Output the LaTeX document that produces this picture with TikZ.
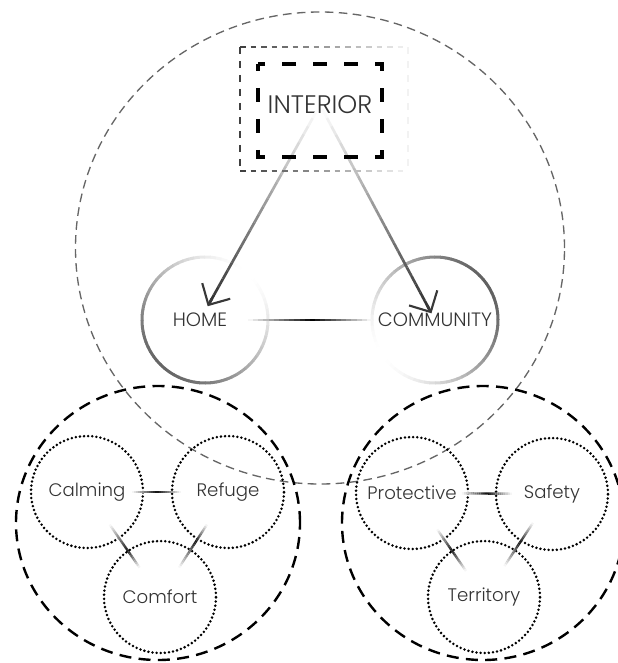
\documentclass[tikz,border=0pt]{standalone}
\usepackage{fontspec}
\setmainfont{Poppins Light}
\usepackage{tikz}
\usepackage{xcolor}
\usetikzlibrary{calc,arrows.meta}
\definecolor{vtext}{HTML}{333333}
\definecolor{vgray}{HTML}{666666}

\newcommand{\fadeline}[7][]{%
	\foreach \i in {1,...,24}{%
		\pgfmathsetmacro\ta{#4+(#5-#4)*(\i-1)/24}%
		\pgfmathsetmacro\tb{#4+(#5-#4)*\i/24}%
		\pgfmathsetmacro\s{(\i-0.5)/24}%
		\pgfmathsetmacro\dk{#7*min(\s/#6,(1-\s)/(1-#6))}%
		\draw[#1, black!\dk] ($(#2)!\ta!(#3)$) -- ($(#2)!\tb!(#3)$);%
	}}

\tikzset{
	bigtext/.style={text=vtext, font=\fontsize{19}{23}\selectfont},
	midtext/.style={text=vtext, font=\fontsize{14.5}{17}\selectfont},
	dotring/.style={circle, draw, line width=2.1pt, dash pattern=on 0pt off 3.1pt, line cap=round, minimum size=84pt, inner sep=0pt, text=vtext, font=\fontsize{13.6}{17}\selectfont},
	clusterline/.style={line width=1.8pt, dash pattern=on 9pt off 5.5pt},
	framebox/.style={line width=2.3pt, dash pattern=on 10.5pt off 12.75pt, dash phase=5.25pt},
	boxline/.style={line width=1.2pt, dash pattern=on 5.5pt off 5pt},
	ring/.style={line width=2.25pt},
	arrowline/.style={line width=2pt},
	hlink/.style={line width=2.1pt},
	clink/.style={line width=1.8pt}
}

\begin{document}
\begin{tikzpicture}[x=0.75pt, y=0.75pt]
		\useasboundingbox (0,0) rectangle (617,-663);
		\draw[vgray, line width=1pt, dash pattern=on 6.5pt off 4pt] (320,-248) ellipse [x radius=244.5, y radius=236];
		\node[bigtext] (interior) at (320,-105) {INTERIOR};
		\node[midtext] (home) at (200,-320) {HOME};
		\node[midtext] (community) at (435,-320) {COMMUNITY};
		\foreach \a in {0,5,...,355}{
			\pgfmathsetmacro\dk{60*(1+cos(\a-225))/2}
			\draw[ring, black!\dk] ($(home)+(5,0)+(\a:63)$) arc[start angle=\a, delta angle=5.5, radius=63];
		}
		\foreach \a in {0,5,...,355}{
			\pgfmathsetmacro\dk{62*(1+cos(\a-30))/2}
			\draw[ring, black!\dk] ($(community)+(0,0)+(\a:63)$) arc[start angle=\a, delta angle=5.5, radius=63];
		}
		\fadeline[arrowline]{interior}{home}{0.024}{0.92}{0.98}{80}
		\fadeline[arrowline]{interior}{community}{0.022}{0.95}{0.98}{80}
		\draw[arrowline, black!78, -{Straight Barb[length=12pt, width=24pt, line width=1.6pt]}] ($(interior)!0.90!(home)$) -- ($(interior)!0.936!(home)$);
		\draw[arrowline, black!78, -{Straight Barb[length=12pt, width=24pt, line width=1.6pt]}] ($(interior)!0.93!(community)$) -- ($(interior)!0.969!(community)$);
		\fadeline[hlink]{home}{community}{0.204}{0.732}{0.52}{100}
		\draw[framebox] (258,-64) rectangle (382,-157);
		\draw[boxline, black!75] (240,-47) -- (240,-171);
		\draw[boxline, black!5] (408,-47) -- (408,-171);
		\foreach \k in {0,...,15}{
			\pgfmathsetmacro\dk{75-4.5*\k}
			\draw[line width=1.2pt, black!\dk] (240+10.5*\k,-47) -- ++(5.5,0);
			\draw[line width=1.2pt, black!\dk] (240+10.5*\k,-171) -- ++(5.5,0);
		}
		\draw[clusterline] (158,-523) ellipse [x radius=142, y radius=137];
		\draw[clusterline] (483,-523) ellipse [x radius=141, y radius=137];
		\node[dotring] (calming) at (87,-492) {Calming};
		\node[dotring] (refuge) at (228,-492) {Refuge};
		\node[dotring] (comfort) at (160,-597) {Comfort};
		\node[dotring] (protective) at (412,-493) {Protective};
		\node[dotring] (safety) at (552,-494) {Safety};
		\node[dotring] (territory) at (484,-597) {Territory};
		\fadeline[clink]{calming}{refuge}{0.32}{0.67}{0.5}{95}
		\fadeline[clink]{calming}{comfort}{0.31}{0.72}{0.6}{90}
		\fadeline[clink]{refuge}{comfort}{0.31}{0.72}{0.4}{90}
		\fadeline[clink]{protective}{safety}{0.357}{0.714}{0.5}{95}
		\fadeline[clink]{protective}{territory}{0.35}{0.75}{0.5}{90}
		\fadeline[clink]{safety}{territory}{0.28}{0.70}{0.45}{90}
	\end{tikzpicture}
\end{document}
